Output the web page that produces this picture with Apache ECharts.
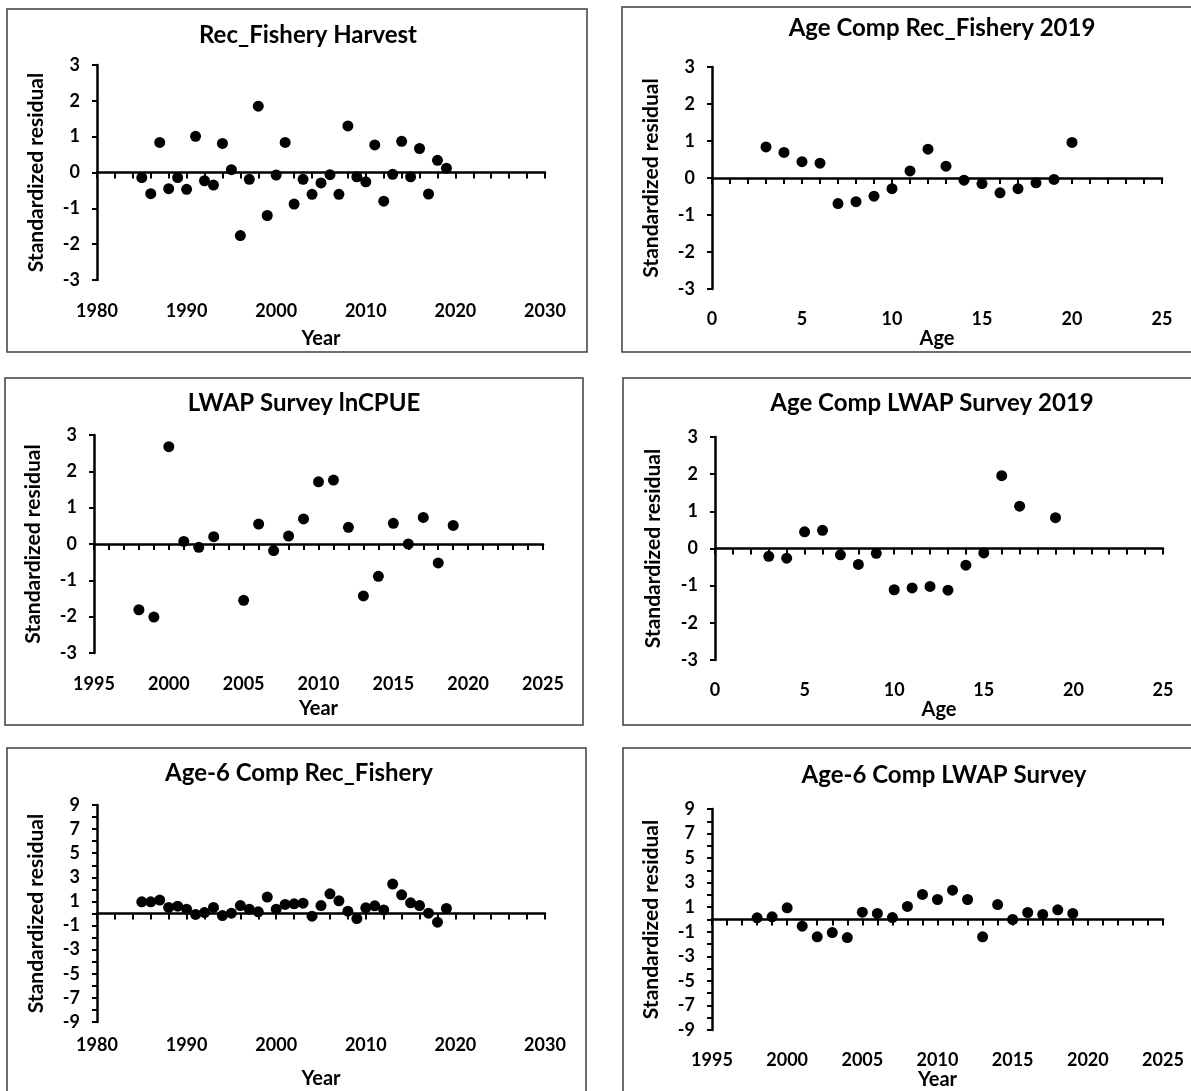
<!DOCTYPE html>
<html><head><meta charset="utf-8">
<script src="https://cdn.jsdelivr.net/npm/echarts@6/dist/echarts.min.js"></script>
<style>html,body{margin:0;padding:0;background:#fff}#c{width:1191px;height:1091px}</style>
</head><body><div id="c"></div>
<script>
// ---- Data ----
const harvestYears = [1985,1986,1987,1988,1989,1990,1991,1992,1993,1994,1995,1996,1997,1998,1999,2000,2001,2002,2003,2004,2005,2006,2007,2008,2009,2010,2011,2012,2013,2014,2015,2016,2017,2018,2019];
const harvestResid = [-0.14,-0.59,0.84,-0.45,-0.14,-0.47,1.01,-0.23,-0.35,0.81,0.08,-1.76,-0.19,1.85,-1.20,-0.07,0.84,-0.88,-0.19,-0.61,-0.29,-0.06,-0.61,1.30,-0.12,-0.26,0.77,-0.80,-0.05,0.87,-0.12,0.67,-0.60,0.34,0.12];

const recAgeAges = [3,4,5,6,7,8,9,10,11,12,13,14,15,16,17,18,19,20];
const recAgeResid = [0.84,0.69,0.44,0.40,-0.69,-0.64,-0.49,-0.29,0.19,0.78,0.32,-0.06,-0.15,-0.40,-0.29,-0.13,-0.04,0.96];

const lwapYears = [1998,1999,2000,2001,2002,2003,2005,2006,2007,2008,2009,2010,2011,2012,2013,2014,2015,2016,2017,2018,2019];
const lwapResid = [-1.81,-2.01,2.68,0.07,-0.09,0.20,-1.55,0.55,-0.18,0.22,0.69,1.71,1.76,0.46,-1.43,-0.89,0.57,0.00,0.73,-0.52,0.51];

const lwapAgeAges = [3,4,5,6,7,8,9,10,11,12,13,14,15,16,17,19];
const lwapAgeResid = [-0.21,-0.26,0.45,0.49,-0.17,-0.43,-0.13,-1.11,-1.06,-1.02,-1.12,-0.45,-0.12,1.96,1.14,0.83];

const age6RecYears = [1985,1986,1987,1988,1989,1990,1991,1992,1993,1994,1995,1996,1997,1998,1999,2000,2001,2002,2003,2004,2005,2006,2007,2008,2009,2010,2011,2012,2013,2014,2015,2016,2017,2018,2019];
const age6RecResid = [0.97,0.97,1.11,0.50,0.61,0.36,-0.08,0.08,0.50,-0.17,0.03,0.66,0.36,0.14,1.36,0.36,0.75,0.80,0.86,-0.22,0.66,1.63,1.05,0.19,-0.42,0.47,0.64,0.30,2.44,1.55,0.89,0.66,0.03,-0.72,0.42];

const age6LwapYears = [1998,1999,2000,2001,2002,2003,2004,2005,2006,2007,2008,2009,2010,2011,2012,2013,2014,2015,2016,2017,2018,2019];
const age6LwapResid = [0.14,0.22,0.95,-0.54,-1.41,-1.06,-1.47,0.60,0.49,0.16,1.06,2.04,1.63,2.39,1.63,-1.41,1.22,0.00,0.57,0.41,0.79,0.49];

// axis ranges: [min, max, interval]
const yearAxisA = [1980, 2030, 10];
const yearAxisB = [1995, 2025, 5];
const ageAxis = [0, 25, 5];
const residAxisSmall = [-3, 3, 1];
const residAxisLarge = [-9, 9, 2];

const titles = ['Rec_Fishery Harvest','Age Comp Rec_Fishery 2019','LWAP Survey lnCPUE','Age Comp LWAP Survey 2019','Age-6 Comp Rec_Fishery','Age-6 Comp LWAP Survey'];
const yName = 'Standardized residual';

// ---- Layout ----
const FONT = 'Lato';
const panels = [
  {x:harvestYears, y:harvestResid, xr:yearAxisA, xMinor:5, yr:residAxisSmall, yMinor:0, xName:'Year',
   grid:{left:97,top:65,width:448,height:215}, box:[7,9,580,343], t:[308,23], gx:49, gy:50, mx:22},
  {x:recAgeAges, y:recAgeResid, xr:ageAxis, xMinor:5, yr:residAxisSmall, yMinor:0, xName:'Age',
   grid:{left:712,top:67,width:450,height:222}, box:[622,7,700,345], t:[942,16], gx:40, gy:50, mx:21},
  {x:lwapYears, y:lwapResid, xr:yearAxisB, xMinor:5, yr:residAxisSmall, yMinor:0, xName:'Year',
   grid:{left:94,top:435,width:449,height:218}, box:[5,378,578,347], t:[304,391], gx:46, gy:50, mx:22},
  {x:lwapAgeAges, y:lwapAgeResid, xr:ageAxis, xMinor:5, yr:residAxisSmall, yMinor:0, xName:'Age',
   grid:{left:715,top:437,width:448,height:223}, box:[623,378,700,347], t:[932,391], gx:39, gy:51, mx:21},
  {x:age6RecYears, y:age6RecResid, xr:yearAxisA, xMinor:5, yr:residAxisLarge, yMinor:2, xName:'Year',
   grid:{left:97,top:805,width:448,height:217}, box:[7,748,579,400], t:[299,761], gx:47, gy:50, mx:14},
  {x:age6LwapYears, y:age6LwapResid, xr:yearAxisB, xMinor:5, yr:residAxisLarge, yMinor:2, xName:'Year',
   grid:{left:712,top:809,width:451,height:221}, box:[623,748,700,400], t:[944,763], gx:37, gy:50, mx:21}
];

const txt = {fontFamily:FONT, fontWeight:'bold', color:'#000'};
const fmt = v => String(v);
const option = {animation:false, backgroundColor:'#fff', grid:[], xAxis:[], yAxis:[], series:[], title:[], graphic:[]};

panels.forEach((p,i)=>{
  option.grid.push(Object.assign({containLabel:false}, p.grid));
  option.title.push({text:titles[i], left:p.t[0], top:p.t[1], textAlign:'center', padding:0,
    textStyle:Object.assign({fontSize:24}, txt)});
  option.graphic.push({type:'rect', shape:{x:p.box[0], y:p.box[1], width:p.box[2], height:p.box[3]},
    style:{fill:null, stroke:'#3f3f3f', lineWidth:1.5}, silent:true, z:-1});
  // bottom axis: labels + name only
  option.xAxis.push({type:'value', gridIndex:i, position:'bottom', min:p.xr[0], max:p.xr[1], interval:p.xr[2],
    axisLine:{show:false, onZero:false}, axisTick:{show:false}, splitLine:{show:false}, minorTick:{show:false},
    axisLabel:Object.assign({fontSize:18, margin:p.mx, formatter:fmt, showMinLabel:true, showMaxLabel:true}, txt),
    name:p.xName, nameLocation:'middle', nameGap:p.gx, nameTextStyle:Object.assign({fontSize:20}, txt)});
  // zero-line axis with ticks
  option.xAxis.push({type:'value', gridIndex:i, position:'top', min:p.xr[0], max:p.xr[1], interval:p.xr[2],
    axisLine:{show:true, onZero:true, lineStyle:{color:'#000', width:2.5}},
    axisTick:{show:true, inside:true, length:6, lineStyle:{color:'#000', width:2}},
    minorTick:{show:true, splitNumber:p.xMinor, length:6, lineStyle:{color:'#000', width:2}},
    axisLabel:{show:false}, splitLine:{show:false}, minorSplitLine:{show:false}});
  option.yAxis.push({type:'value', gridIndex:i, min:p.yr[0], max:p.yr[1], interval:p.yr[2],
    axisLine:{show:true, onZero:false, lineStyle:{color:'#000', width:2.5}},
    axisTick:{show:true, length:5, lineStyle:{color:'#000', width:2}},
    minorTick:{show:p.yMinor>0, splitNumber:p.yMinor||1, length:5, lineStyle:{color:'#000', width:2}},
    splitLine:{show:false}, minorSplitLine:{show:false},
    axisLabel:Object.assign({fontSize:18, margin:17, formatter:fmt, showMinLabel:true, showMaxLabel:true}, txt),
    name:yName, nameLocation:'middle', nameRotate:90, nameGap:p.gy, nameTextStyle:Object.assign({fontSize:21}, txt)});
  option.series.push({type:'scatter', xAxisIndex:2*i, yAxisIndex:i, symbol:'circle', symbolSize:11,
    itemStyle:{color:'#000', opacity:1}, silent:true, z:5,
    data:p.x.map((v,j)=>[v, p.y[j]])});
});

const chart = echarts.init(document.getElementById('c'), null, {renderer:'canvas'});
chart.setOption(option);
</script></body></html>
